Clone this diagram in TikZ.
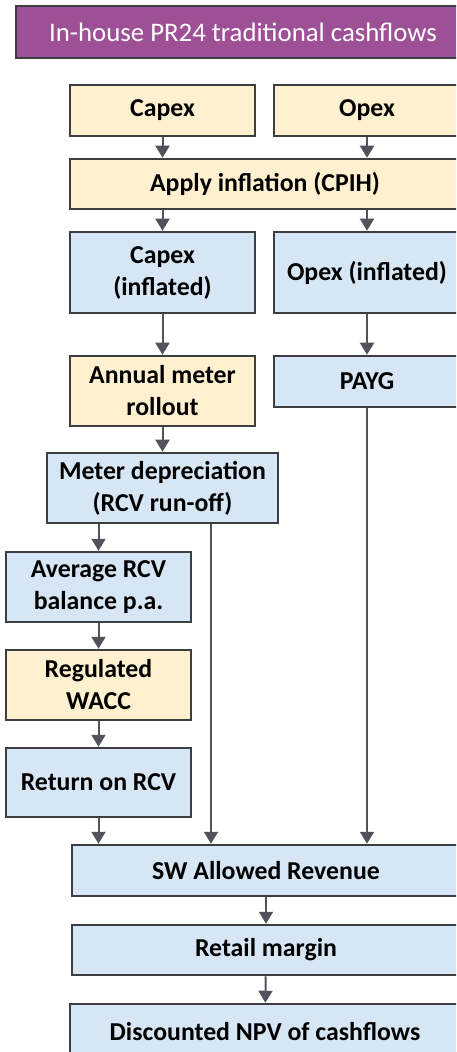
\documentclass[tikz,border=0pt]{standalone}
\usepackage{fontspec}
\setmainfont{Carlito}
\definecolor{pxpurple}{RGB}{158,80,150}
\definecolor{pxpeach}{RGB}{255,240,208}
\definecolor{pxblue}{RGB}{214,230,244}
\definecolor{pxline}{RGB}{80,84,90}
\definecolor{pxedge}{RGB}{60,62,66}
\usetikzlibrary{arrows.meta,positioning,calc}

\begin{document}
\begin{tikzpicture}[x=0.5pt,y=-0.5pt,
  box/.style={draw=pxedge,line width=1.25pt,align=center,inner sep=0pt,
    font=\fontsize{12.9}{16}\selectfont\bfseries,text=black},
  inbox/.style={box,fill=pxpeach},
  calcbox/.style={box,fill=pxblue},
  arr/.style={pxline,line width=1pt,-{Triangle[width=7pt,length=6pt]}}]
  \useasboundingbox (0,0) rectangle (456,1052);
  \clip (0,0) rectangle (456,1052);
  % Title
  \node[draw=pxedge,line width=1.1pt,fill=pxpurple,text=white,font=\fontsize{13.4}{15}\selectfont,
    minimum width=227pt,minimum height=26pt,inner sep=0pt] (title) at (243,32)
    {In-house PR24 traditional cashflows};
  % Inputs
  \node[inbox,minimum width=92.5pt,minimum height=25.5pt] (capex) at (162.5,110.5) {Capex};
  \node[inbox,minimum width=93pt,minimum height=25.5pt] (opex) at (367,110.5) {Opex};
  \node[inbox,minimum width=195pt,minimum height=25pt] (cpih) at (265,184) {Apply inflation (CPIH)};
  % Inflated streams
  \node[calcbox,minimum width=92.5pt,minimum height=40.5pt] (capexinf) at (162.5,272.5) {Capex\\(inflated)};
  \node[calcbox,minimum width=93pt,minimum height=40.5pt] (opexinf) at (367,272.5) {Opex (inflated)};
  \node[inbox,minimum width=92.5pt,minimum height=35pt] (rollout) at (162.5,391) {Annual meter\\rollout};
  \node[calcbox,minimum width=93pt,minimum height=25.5pt] (payg) at (367,381.5) {PAYG};
  \node[calcbox,minimum width=115.5pt,minimum height=35pt] (deprec) at (162.5,488) {Meter depreciation\\(RCV run-off)};
  % Return on RCV
  \node[calcbox,minimum width=92.5pt,minimum height=35pt] (avgrcv) at (98.5,587) {Average RCV\\balance p.a.};
  \node[inbox,minimum width=92.5pt,minimum height=35pt] (wacc) at (98.5,685) {Regulated\\WACC};
  \node[calcbox,minimum width=92.5pt,minimum height=34.5pt] (retrcv) at (98.5,782.5) {Return on RCV};
  % Revenue and NPV
  \node[calcbox,minimum width=194pt,minimum height=25.5pt] (swrev) at (266,870.5) {SW Allowed Revenue};
  \node[calcbox,minimum width=194pt,minimum height=25pt] (retail) at (266,950) {Retail margin};
  \node[calcbox,minimum width=195pt,minimum height=28pt] (npv) at (265,1032) {Discounted NPV of cashflows};
  % Arrows
  \draw[arr] (capex.south) -- (capex.south |- cpih.north);
  \draw[arr] (opex.south) -- (opex.south |- cpih.north);
  \draw[arr] (capexinf.north |- cpih.south) -- (capexinf.north);
  \draw[arr] (opexinf.north |- cpih.south) -- (opexinf.north);
  \draw[arr] (capexinf) -- (rollout);
  \draw[arr] (opexinf) -- (payg);
  \draw[arr] (rollout) -- (deprec);
  \draw[arr] (avgrcv.north |- deprec.south) -- (avgrcv.north);
  \draw[arr] (avgrcv) -- (wacc);
  \draw[arr] (wacc) -- (retrcv);
  \draw[arr] (retrcv.south) -- (retrcv.south |- swrev.north);
  \draw[arr] ([xshift=24.25pt]deprec.south) -- ([xshift=24.25pt]deprec.south |- swrev.north);
  \draw[arr] (payg.south) -- (payg.south |- swrev.north);
  \draw[arr] (swrev) -- (retail);
  \draw[arr] (retail) -- (npv);
\end{tikzpicture}
\end{document}
